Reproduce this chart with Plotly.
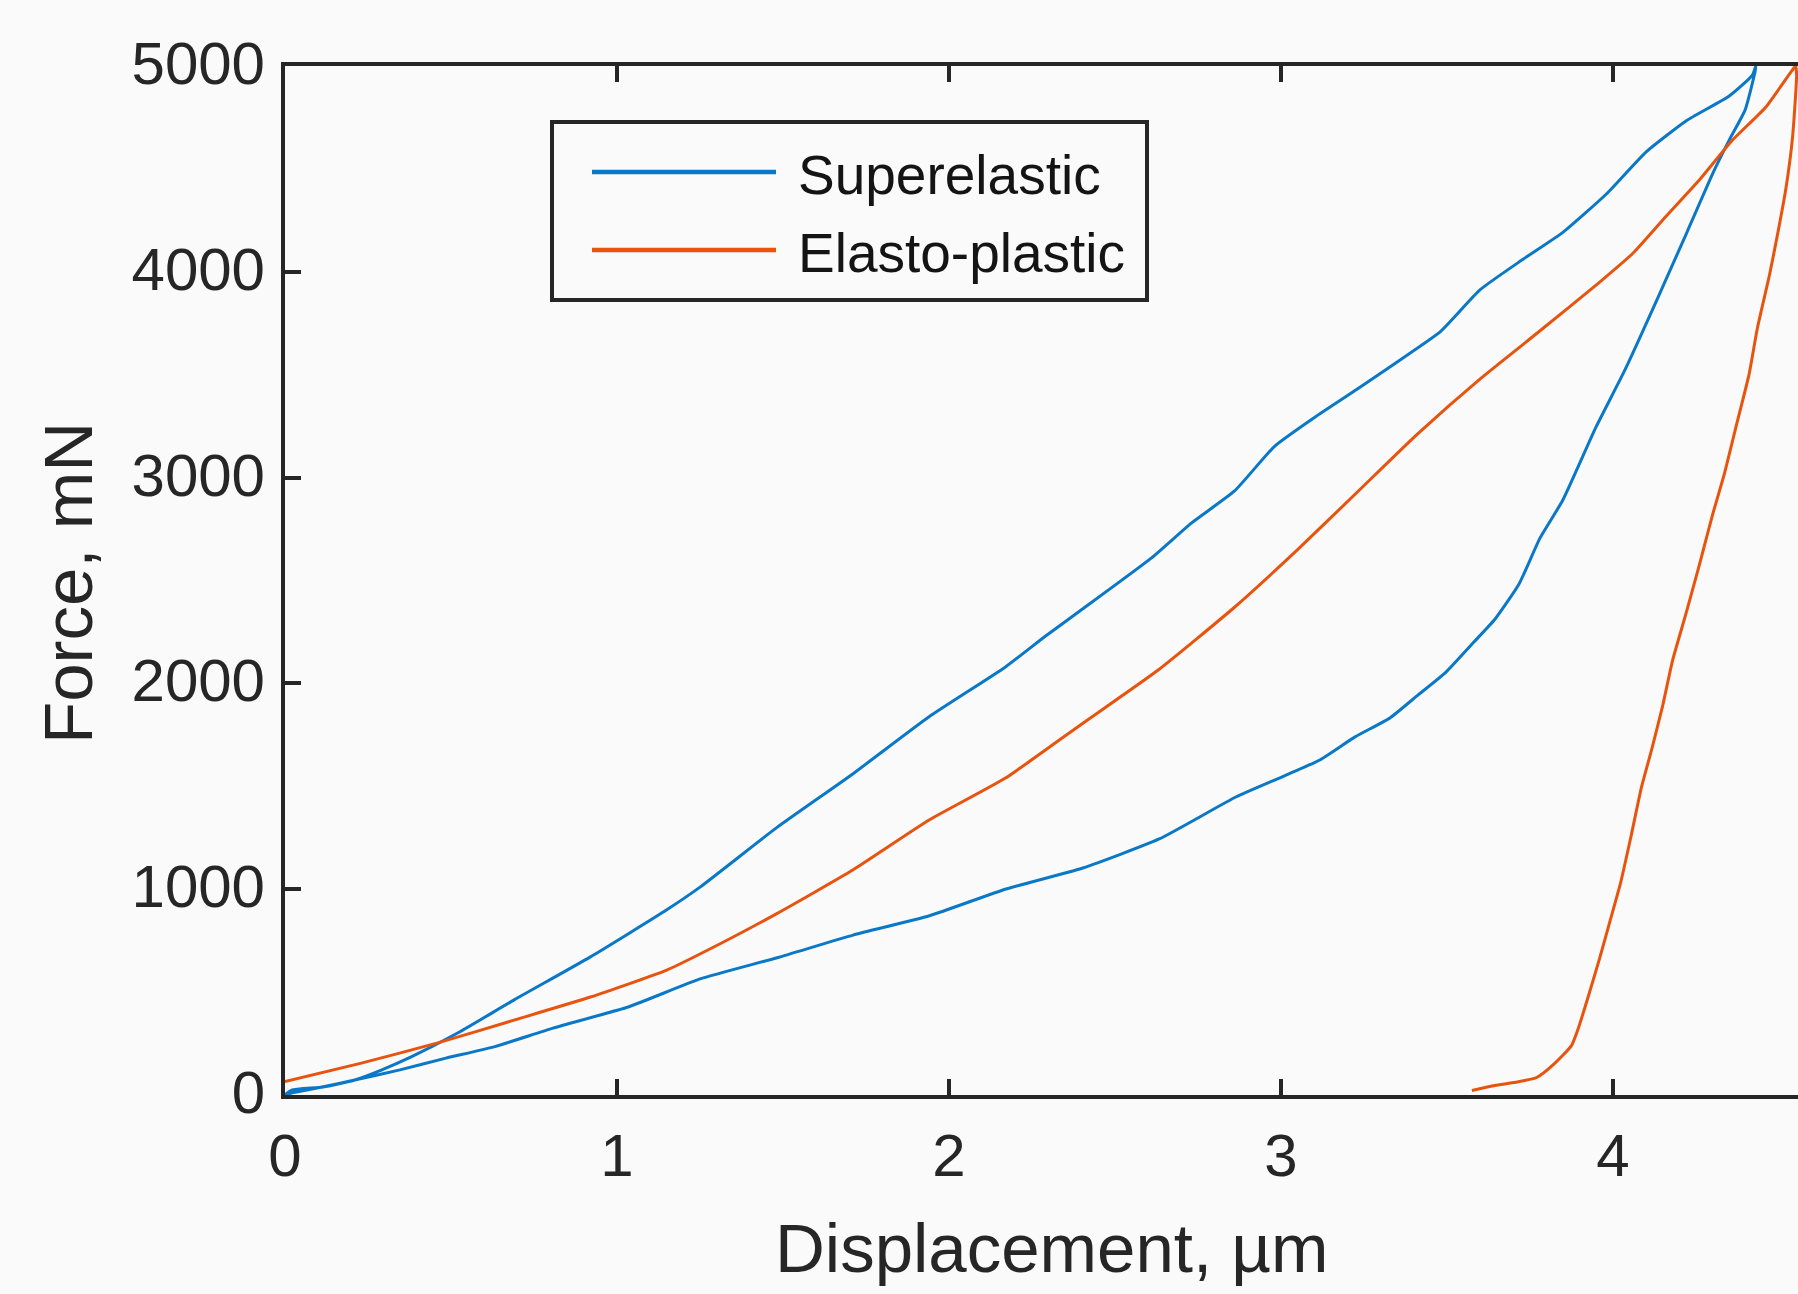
import plotly.graph_objects as go

# ---------------- data ----------------
# Superelastic: loading branch
se_load_x = [0, 0.02, 0.115, 0.21, 0.29, 0.38, 0.52, 0.69, 0.92, 1.15, 1.25, 1.48, 1.71,
             1.94, 2.17, 2.29, 2.40, 2.61, 2.73, 2.86, 2.98, 3.10, 3.23, 3.35, 3.48, 3.60,
             3.73, 3.85, 3.98, 4.10, 4.22, 4.35, 4.42, 4.43]
se_load_f = [0, 24, 39, 73, 121, 185, 301, 462, 671, 900, 1010, 1298, 1560,
             1838, 2080, 2229, 2359, 2610, 2779, 2935, 3151, 3291, 3430, 3562, 3709, 3913,
             4062, 4193, 4378, 4583, 4733, 4854, 4956, 5000]
# Superelastic: unloading branch
se_unload_x = [4.428, 4.398, 4.35, 4.304, 4.223, 4.136, 4.036, 3.949, 3.849, 3.78, 3.717,
               3.645, 3.581, 3.497, 3.413, 3.328, 3.223, 3.117, 3.012, 2.864, 2.633, 2.403,
               2.172, 1.941, 1.711, 1.48, 1.25, 1.036, 0.807, 0.632, 0.485, 0.346, 0.21,
               0.1, 0.02, 0]
se_unload_f = [4973, 4787, 4640, 4490, 4193, 3877, 3523, 3246, 2891, 2706, 2483,
               2313, 2201, 2055, 1944, 1832, 1740, 1628, 1552, 1448, 1244, 1103,
               1001, 871, 777, 666, 564, 429, 325, 235, 179, 122, 73,
               35, 10, 0]

# Elasto-plastic: loading branch
ep_load_x = [0, 0.23, 0.46, 0.69, 0.92, 1.15, 1.25, 1.48, 1.71, 1.94, 2.17, 2.40, 2.63,
             2.86, 3.05, 3.23, 3.41, 3.60, 3.77, 3.96, 4.06, 4.16, 4.26, 4.36, 4.46, 4.54, 4.55]
ep_load_f = [65, 155, 253, 364, 476, 607, 685, 880, 1093, 1336, 1540, 1803, 2065,
             2370, 2650, 2930, 3210, 3480, 3700, 3950, 4090, 4270, 4446, 4640, 4800, 4980, 5000]
# Elasto-plastic: unloading branch
ep_unload_x = [4.553, 4.541, 4.522, 4.497, 4.472, 4.435, 4.41, 4.373, 4.336, 4.30, 4.26,
               4.22, 4.18, 4.149, 4.117, 4.086, 4.054, 4.023, 3.991, 3.959, 3.928, 3.896,
               3.875, 3.822, 3.77, 3.707, 3.644, 3.575]
ep_unload_f = [4956, 4657, 4417, 4193, 3989, 3727, 3503, 3263, 3022, 2820, 2575,
               2340, 2115, 1887, 1682, 1497, 1255, 1032, 845, 660, 492, 326,
               240, 150, 85, 62, 46, 22]

series_names = ["Superelastic", "Elasto-plastic"]
x_ticks = [0, 1, 2, 3, 4]
y_ticks = [0, 1000, 2000, 3000, 4000, 5000]
x_title = "Displacement, µm"
y_title = "Force, mN"

# ---------------- styling ----------------
BLUE = "#0A78C8"
ORANGE = "#E8530E"
AX = "#262626"
BG = "#FAFAFA"
FONT = "Liberation Sans, Arial, Helvetica, sans-serif"
colors = [BLUE, ORANGE]

W, H = 1798, 1294
L, T, B = 285, 66, 199
plot_w = W - L
plot_h = H - T - B
x_max = plot_w / 332.0


def px(xpix):
    return (xpix - L) / plot_w


def py(ypix):
    return (H - B - ypix) / plot_h


fig = go.Figure()
fig.add_trace(go.Scatter(x=se_load_x + se_unload_x, y=se_load_f + se_unload_f,
                         mode="lines",
                         line=dict(color=BLUE, width=3, shape="spline", smoothing=0.5),
                         name=series_names[0], showlegend=False))
fig.add_trace(go.Scatter(x=ep_load_x + ep_unload_x, y=ep_load_f + ep_unload_f,
                         mode="lines",
                         line=dict(color=ORANGE, width=3, shape="spline", smoothing=0.5),
                         name=series_names[1], showlegend=False))

# legend box drawn like the reference (box, sample lines, labels)
shapes = [dict(type="rect", xref="paper", yref="paper",
               x0=px(552), x1=px(1147), y0=py(300), y1=py(122),
               line=dict(color=AX, width=4), fillcolor=BG, layer="above")]
annotations = []
for i, (name, col) in enumerate(zip(series_names, colors)):
    ly = 172 + 78 * i
    shapes.append(dict(type="line", xref="paper", yref="paper",
                       x0=px(592), x1=px(776), y0=py(ly), y1=py(ly),
                       line=dict(color=col, width=4.5), layer="above"))
    annotations.append(dict(text=name, xref="paper", yref="paper",
                            x=px(796), y=py(ly + 3), xanchor="left", yanchor="middle",
                            showarrow=False,
                            font=dict(family=FONT, size=55, color="#141414")))

annotations += [
    dict(text=x_title, xref="paper", yref="paper",
         x=px(1052), y=py(1248),
         xanchor="center", yanchor="middle", showarrow=False,
         font=dict(family=FONT, size=69, color=AX)),
    dict(text=y_title, xref="paper", yref="paper", textangle=-90,
         x=px(68), y=py(583),
         xanchor="center", yanchor="middle", showarrow=False,
         font=dict(family=FONT, size=69, color=AX)),
]

fig.update_layout(
    width=W, height=H,
    margin=dict(l=L, r=0, t=T, b=B, pad=0, autoexpand=False),
    paper_bgcolor=BG, plot_bgcolor=BG,
    font=dict(family=FONT, color=AX, size=60),
    showlegend=False,
    xaxis=dict(
        range=[0, x_max], tickvals=x_ticks, ticktext=[str(v) for v in x_ticks],
        ticks="inside", ticklen=16, tickwidth=4, tickcolor=AX,
        showline=True, linewidth=4, linecolor=AX, mirror="ticks",
        showgrid=False, zeroline=False,
        tickfont=dict(size=60, color=AX, family=FONT),
        ticklabelstandoff=5,
    ),
    yaxis=dict(
        range=[0, 5000], tickvals=y_ticks, ticktext=[str(v) for v in y_ticks],
        ticks="inside", ticklen=16, tickwidth=4, tickcolor=AX,
        showline=True, linewidth=4, linecolor=AX, mirror=False,
        showgrid=False, zeroline=False,
        tickfont=dict(size=60, color=AX, family=FONT),
        ticklabelstandoff=4, ticklabelshift=-3,
    ),
    shapes=shapes,
    annotations=annotations,
)

fig.write_html("out.html")
